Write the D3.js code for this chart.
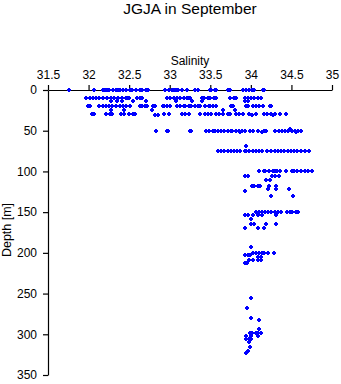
<!DOCTYPE html>
<html><head><meta charset="utf-8">
<script src="https://cdn.jsdelivr.net/npm/d3@7"></script>
<style>
html,body{margin:0;padding:0;background:#fff;}
text{font-family:"Liberation Sans",Arial,sans-serif;fill:#000;}
</style></head>
<body><svg id="c" width="341" height="384"></svg>
<script>
const title = "JGJA in September";
const xLabel = "Salinity";
const yLabel = "Depth [m]";
const xTicks = [31.5, 32, 32.5, 33, 33.5, 34, 34.5, 35];
const yTicks = [0, 50, 100, 150, 200, 250, 300, 350];

// [depth, salinities...]
const rows = [
  [0, 31.75,32.05,32.16,32.19,32.22,32.24,32.29,32.32,32.35,32.38,32.41,32.45,32.5,32.52,32.57,32.62,32.65,32.69,32.72,32.93,32.98,33.02,33.04,33.07,33.09,33.14,33.2,33.3,33.34,33.48,33.5,33.54,33.56,33.71,33.73,33.89,33.93,33.97,34.0,34.03,34.14,34.15],
  [10, 31.96,32.0,32.04,32.08,32.12,32.16,32.22,32.26,32.3,32.35,32.4,32.45,32.47,32.49,32.58,32.62,32.65,32.95,32.99,33.04,33.08,33.12,33.16,33.2,33.23,33.24,33.39,33.41,33.46,33.48,33.53,33.56,33.73,33.78,33.81,33.91,33.95,33.99,34.03,34.08,34.11],
  [14, 32.27,32.34,32.4,32.53,32.7,33.07,33.26,33.39,33.92,33.95],
  [20, 31.98,32.0,32.12,32.16,32.2,32.24,32.28,32.33,32.37,32.41,32.45,32.5,32.62,32.65,32.68,32.71,32.78,32.81,32.9,32.92,32.96,32.99,33.08,33.11,33.16,33.18,33.23,33.25,33.3,33.34,33.36,33.42,33.47,33.49,33.52,33.56,33.74,33.77,33.93,33.95,34.01,34.05,34.09,34.14,34.22,34.24],
  [24, 32.27,32.42,32.77,33.65,33.79],
  [30, 32.03,32.06,32.2,32.25,32.26,32.28,32.39,32.43,32.48,32.54,32.56,32.92,32.98,33.14,33.18,33.23,33.36,33.42,33.46,33.5,33.56,33.6,33.64,33.71,33.73,33.8,33.84,33.89,33.97,34.05,34.15,34.19,34.23,34.29,34.35,34.42],
  [31, 32.81,32.84,34.0,34.26],
  [48, 34.47],
  [50, 32.82,32.96,32.97,33.24,33.25,33.43,33.47,33.52,33.54,33.58,33.62,33.66,33.7,33.74,33.76,33.8,33.84,33.88,33.91,33.98,34.02,34.07,34.15,34.17,34.29,34.33,34.37,34.41,34.45,34.49,34.53,34.57,34.61],
  [52, 33.86,34.13,34.55],
  [69, 33.93],
  [75, 33.58,33.62,33.66,33.7,33.74,33.78,33.82,33.86,33.91,33.93,33.97,34.01,34.05,34.09,34.13,34.19,34.24,34.28,34.32,34.36,34.4,34.44,34.48,34.52,34.56,34.6,34.66,34.71],
  [100, 34.09,34.15,34.16,34.21,34.26,34.28,34.31,34.35,34.42,34.49,34.52,34.56,34.6,34.65,34.69,34.74],
  [106, 33.91,33.95,34.25,34.29,34.34],
  [111, 34.17,34.22],
  [118, 34.0,34.03,34.08,34.1,34.21,34.3],
  [121, 34.2,34.3,34.46],
  [124, 33.91],
  [130, 34.24,34.51],
  [150, 34.05,34.09,34.13,34.16,34.2,34.23,34.29,34.32,34.36,34.43,34.47,34.5,34.54,34.57],
  [153, 33.91,33.95,34.01,34.07,34.13,34.3],
  [159, 33.99],
  [165, 33.99,34.03,34.17,34.3],
  [169, 33.91],
  [170, 34.08,34.15],
  [193, 33.99],
  [200, 34.01,34.05,34.09,34.13,34.15,34.2,34.27],
  [203, 33.92,33.95,33.98],
  [205, 34.07,34.11],
  [209, 33.97,34.01,34.08,34.11],
  [212, 33.91,33.94],
  [256, 33.99],
  [268, 33.94],
  [280, 33.99],
  [283, 34.09],
  [294, 34.09],
  [299, 33.98,34.0,34.05,34.08,34.11],
  [302, 33.93,33.99,34.08],
  [306, 33.93,33.96,33.99],
  [310, 33.96],
  [315, 33.98],
  [320, 33.95],
  [323, 33.93]
];

const points = [];
rows.forEach(r => { for (let i = 1; i < r.length; i++) points.push({d: r[0], s: r[i]}); });

const svg = d3.select("#c");
const x = d3.scaleLinear().domain([31.5, 35]).range([48, 332]);
const y = d3.scaleLinear().domain([0, 350]).range([90, 375]);

svg.append("text").attr("x", 190).attr("y", 14).attr("text-anchor", "middle")
  .style("font-size", "15.5px").text(title);
svg.append("text").attr("x", 190).attr("y", 65).attr("text-anchor", "middle")
  .style("font-size", "12px").text(xLabel);
svg.append("text").attr("transform", "translate(11,230) rotate(-90)").attr("text-anchor", "middle")
  .style("font-size", "12.5px").text(yLabel);

const gx = svg.append("g").attr("transform", "translate(0,90)")
  .call(d3.axisTop(x).tickValues(xTicks).tickSize(5).tickSizeOuter(0).tickPadding(6).tickFormat(d3.format("")));
const gy = svg.append("g").attr("transform", "translate(48,0)")
  .call(d3.axisLeft(y).tickValues(yTicks).tickSize(5).tickSizeOuter(0).tickPadding(6).tickFormat(d3.format("")));
[gx, gy].forEach(g => {
  g.selectAll("text").style("font-size", "12px").style("font-family", '"Liberation Sans",Arial,sans-serif').attr("fill", "#000");
  g.selectAll("line,path").attr("stroke", "#000").attr("stroke-width", 1.2);
});

const pg = svg.append("g").attr("fill", "#0000ff").attr("shape-rendering", "crispEdges");
const mk = pg.selectAll("g").data(points).join("g")
  .attr("transform", p => `translate(${Math.round(x(p.s))},${Math.round(y(p.d))})`);
mk.append("rect").attr("x", -1).attr("y", -1).attr("width", 4).attr("height", 2);
mk.append("rect").attr("x", 0).attr("y", -2).attr("width", 2).attr("height", 4);
</script></body></html>
